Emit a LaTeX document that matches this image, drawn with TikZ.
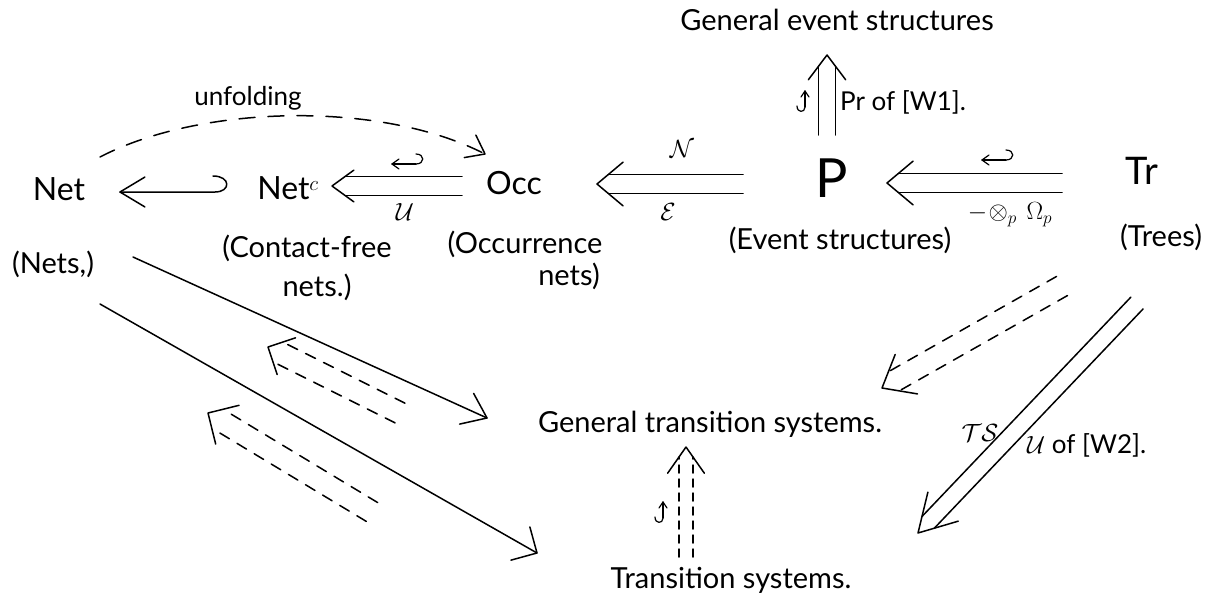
\documentclass[tikz,border=0pt]{standalone}
\usepackage{fontspec}
\setmainfont{Lato}
\usetikzlibrary{calc}
\newcommand{\mychev}[4]{% tip, toward, arm length, half angle
  \draw[ln] ($(#1)!#3!#4:(#2)$) -- (#1) -- ($(#1)!#3!-#4:(#2)$);}
\newcommand{\dpair}[5]{% from, to, half separation, shortening at 'to', style
  \coordinate (tmpE) at ($(#2)!#4!(#1)$);
  \draw[ln,#5] ($(#1)!#3!90:(#2)$) -- ($(tmpE)!#3!-90:(#1)$);
  \draw[ln,#5] ($(#1)!#3!-90:(#2)$) -- ($(tmpE)!#3!90:(#1)$);}
\newcommand{\myhookL}[1]{% hooked arrow pointing left, centred at #1
  \begin{scope}[shift={(#1)}]
  \draw[hkl] (8,4) -- (-16,4);
  \draw[hkl] (-9,-1) -- (-16,4) -- (-9,9);
  \draw[hkl] (8,4) .. controls (17,4) and (17,-6) .. (8,-6);
  \end{scope}}
\newcommand{\myhookU}[1]{% hooked arrow pointing up, centred at #1
  \begin{scope}[shift={(#1)}]
  \draw[hkl] (3,-10) -- (3,6);
  \draw[hkl] (-1,-4) -- (3,-10) -- (7,-4);
  \draw[hkl] (3,6) .. controls (3,12) and (-5,12) .. (-5,5);
  \end{scope}}
\tikzset{
  ln/.style={line width=1.5pt, line cap=round, line join=round},
  hkl/.style={line width=1.2pt, line cap=round, line join=round},
  dsh/.style={dash pattern=on 11pt off 9pt},
  big/.style={font=\fontsize{32}{36}\selectfont, inner sep=0pt},
  txt/.style={font=\fontsize{29}{32}\selectfont, inner sep=0pt},
  sm/.style={font=\fontsize{26}{28}\selectfont, inner sep=0pt},
  lab/.style={font=\fontsize{26}{28}\selectfont, inner sep=0pt},
}
\begin{document}
\begin{tikzpicture}[x=1pt,y=-1pt]
\useasboundingbox (0,0) rectangle (1215,605);
% ---------- nodes ----------
\node[txt] (ges) at (837,20) {General event structures};
\node[font=\fontsize{54}{58}\selectfont, inner sep=0pt] (P) at (832,178) {P};
\node[txt] (evs) at (840,240) {(Event structures)};
\node[font=\fontsize{38}{40}\selectfont, inner sep=0pt] (Tr) at (1142,171) {Tr};
\node[txt] (trees) at (1161,237) {(Trees)};
\node[big] (Occ) at (514,183) {Occ};
\node[txt] (occ1) at (525,244) {(Occurrence};
\node[txt] (occ2) at (569,276) {nets)};
\node[big] (Netc) at (288,188) {Net$^{c}$};
\node[txt] (cf1) at (307,248) {(Contact-free};
\node[txt] (cf2) at (317,287) {nets.)};
\node[big] (Net) at (59,189) {Net};
\node[txt] (nets) at (53,264) {(Nets,)};
\node[sm] (unf) at (248,98) {unfolding};
\node[txt] (gts) at (710,424) {General transition systems.};
\node[txt] (ts) at (731,580) {Transition systems.};
% ---------- P => General event structures ----------
\coordinate (pu0) at (827,135); \coordinate (pu1) at (827,55);
\dpair{pu0}{pu1}{8.5pt}{11pt}{}
\mychev{pu1}{pu0}{31pt}{37}
\coordinate (h1) at (802,101); \myhookU{h1}
\node[sm, anchor=west] (w1) at (840,102) {Pr of [W1].};
% ---------- Tr => P ----------
\coordinate (tp0) at (1062,183); \coordinate (tp1) at (887,183);
\dpair{tp0}{tp1}{9.5pt}{12pt}{}
\mychev{tp1}{tp0}{34pt}{40}
\coordinate (h2) at (998,156); \myhookL{h2}
\node[lab] (l2) at (1010,215) {$-\!\otimes_{p}\,\Omega_{p}$};
% ---------- P => Occ ----------
\coordinate (po0) at (743,184); \coordinate (po1) at (597,184);
\dpair{po0}{po1}{9.5pt}{12pt}{}
\mychev{po1}{po0}{34pt}{40}
\node[lab] (lN) at (682,149) {$\mathcal{N}$};
\node[lab] (lE) at (668,212) {$\mathcal{E}$};
% ---------- Occ => Net^c ----------
\coordinate (on0) at (462,186); \coordinate (on1) at (332,186);
\dpair{on0}{on1}{9.5pt}{13pt}{}
\mychev{on1}{on0}{27pt}{36}
\coordinate (h3) at (408,160); \myhookL{h3}
\node[lab] (lU) at (405,212) {$\mathcal{U}$};
% ---------- Net^c <-hook Net ----------
\coordinate (hk0) at (215,192); \coordinate (hk1) at (120,192);
\draw[ln] (hk1) -- (hk0) .. controls (231,192) and (231,176) .. (213,176);
\mychev{hk1}{hk0}{29pt}{31}
% ---------- unfolding (dashed arc) ----------
\coordinate (ar0) at (100,157); \coordinate (ar1) at (485,154);
\coordinate (arc) at (380,100);
\draw[ln, dash pattern=on 16pt off 13pt] (ar0) .. controls (200,105) and (arc) .. (ar1);
\mychev{ar1}{arc}{21pt}{37}
% ---------- Net -> General transition systems ----------
\coordinate (ng0) at (133,257); \coordinate (ng1) at (487,418);
\draw[ln] (ng0) -- (ng1);
\mychev{ng1}{ng0}{28pt}{37}
% ---------- Net -> Transition systems ----------
\coordinate (nt0) at (100,304); \coordinate (nt1) at (537,553);
\draw[ln] (nt0) -- (nt1);
\mychev{nt1}{nt0}{27pt}{45}
% ---------- dashed reverse pairs ----------
\coordinate (dA0) at (400,413); \coordinate (dA1) at (268,347);
\dpair{dA0}{dA1}{11pt}{12pt}{dsh}
\mychev{dA1}{dA0}{29pt}{45}
\coordinate (dB0) at (372,512); \coordinate (dB1) at (208,413);
\dpair{dB0}{dB1}{11pt}{12pt}{dsh}
\mychev{dB1}{dB0}{32pt}{45}
% ---------- Tr dashed => General transition systems ----------
\coordinate (td0) at (1062,286); \coordinate (td1) at (882,388);
\dpair{td0}{td1}{11pt}{14pt}{dsh}
\mychev{td1}{td0}{36pt}{39}
% ---------- Tr => General transition systems ----------
\coordinate (tg0) at (1137,303); \coordinate (tg1) at (918,533);
\dpair{tg0}{tg1}{8.5pt}{15pt}{}
\mychev{tg1}{tg0}{42pt}{30}
\node[lab] (lTS) at (980,433) {$\mathcal{TS}$};
\node[sm, anchor=west] (w2) at (1027,445) {$\mathcal{U}$ of [W2].};
% ---------- Transition systems dashed => General transition systems ----------
\coordinate (ut0) at (686,557); \coordinate (ut1) at (686,447);
\dpair{ut0}{ut1}{7pt}{10pt}{dash pattern=on 8pt off 6pt}
\mychev{ut1}{ut0}{32pt}{35}
\coordinate (h4) at (660,512); \myhookU{h4}
\end{tikzpicture}
\end{document}
